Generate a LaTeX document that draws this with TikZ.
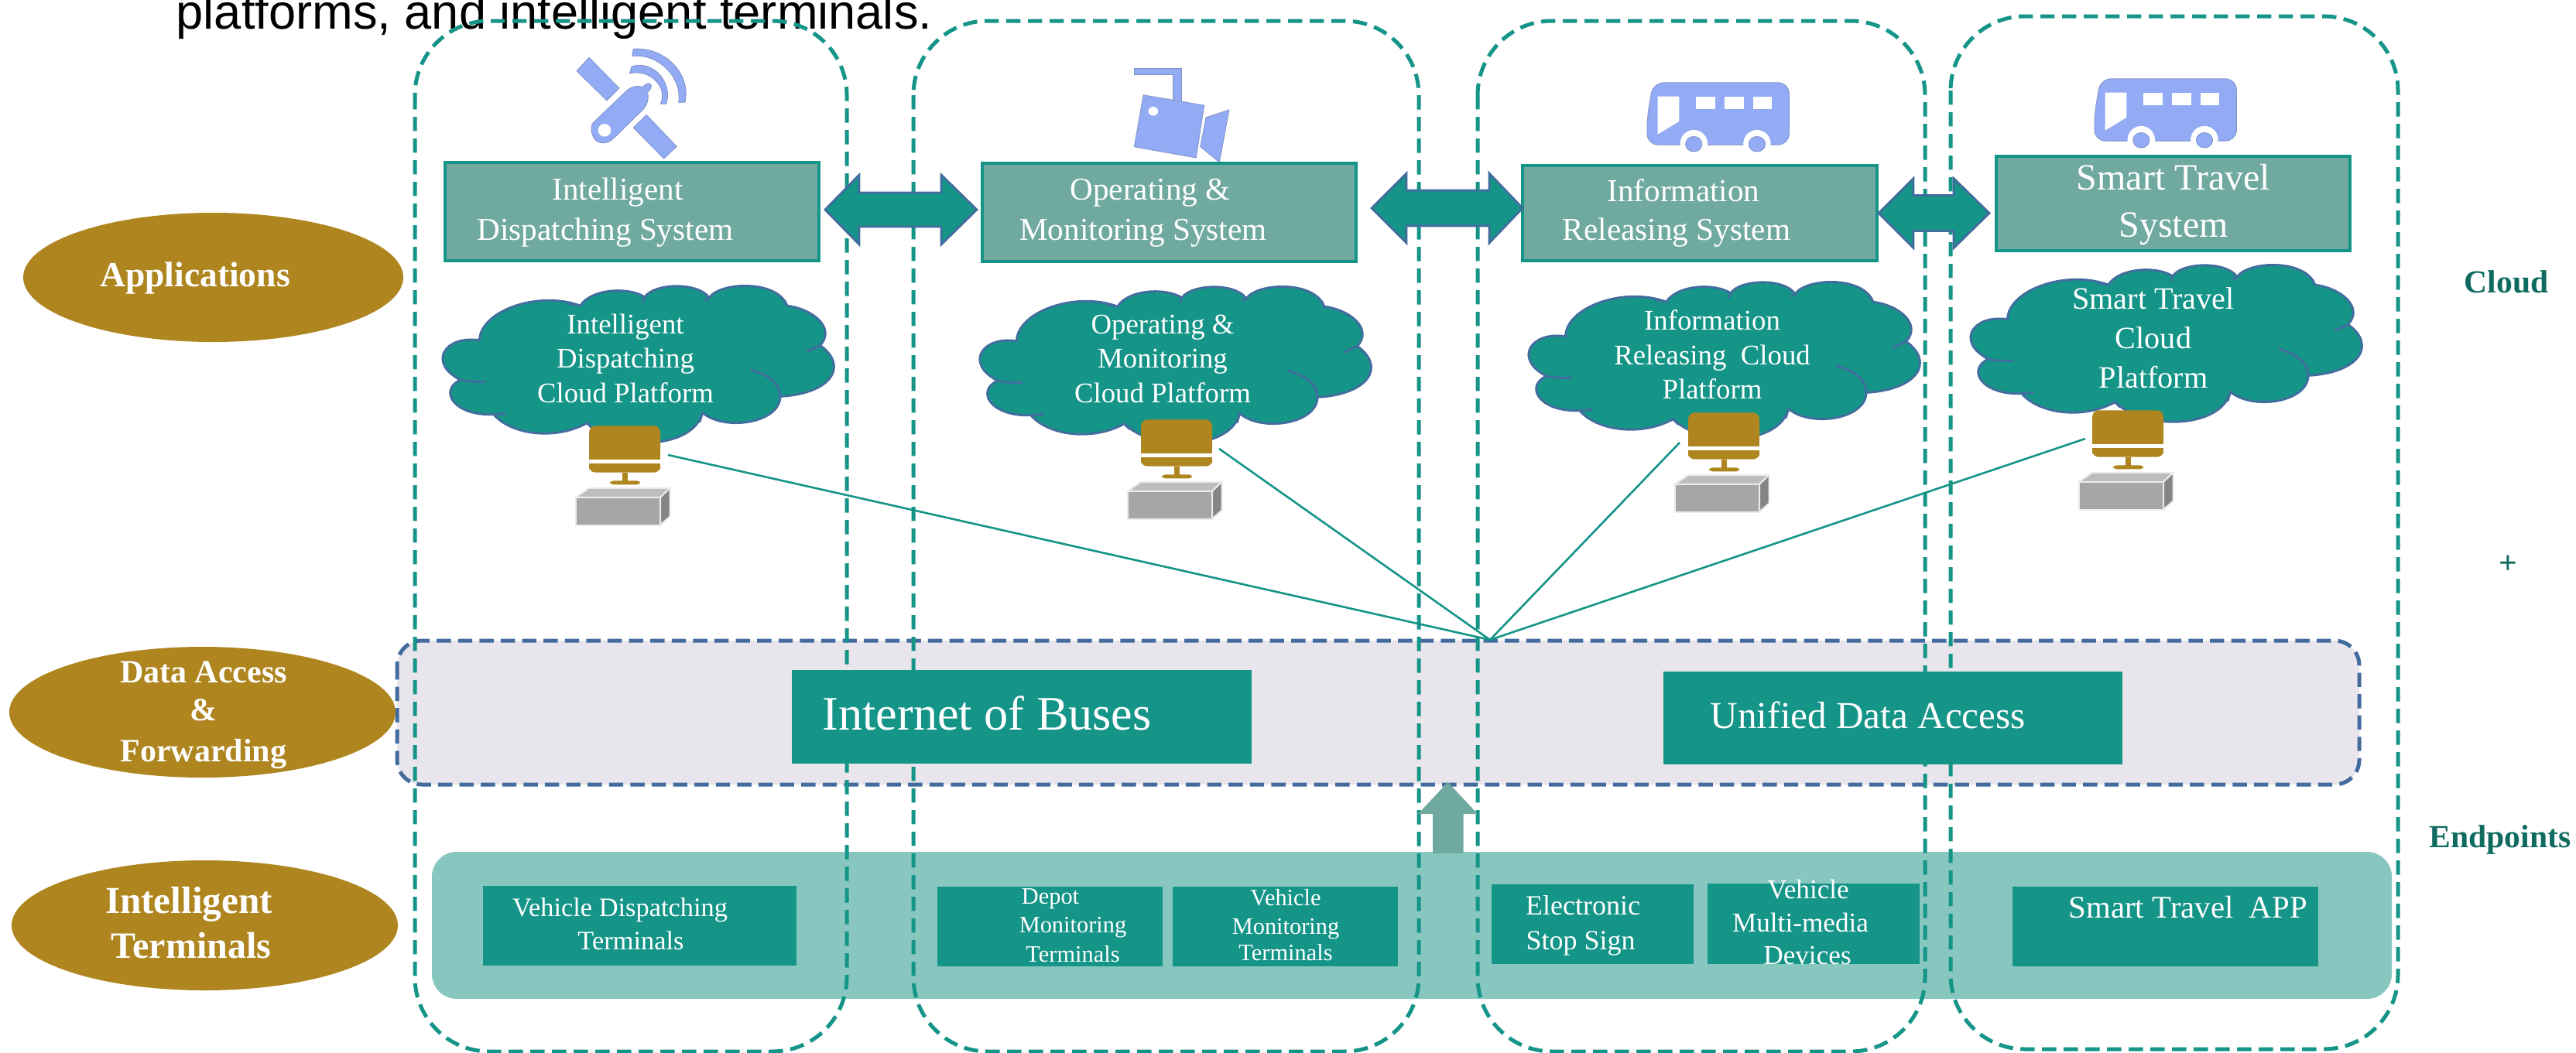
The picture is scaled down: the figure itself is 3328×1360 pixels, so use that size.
\documentclass[tikz,border=0pt]{standalone}
\usepackage{fontspec}
\setmainfont{Liberation Serif}
\newfontfamily\arialfont{Liberation Sans}
\usetikzlibrary{shapes.geometric,calc}
\definecolor{dgteal}{HTML}{159488}
\definecolor{dgsys}{HTML}{70A9A0}
\definecolor{dggold}{HTML}{AE851F}
\definecolor{dgband}{HTML}{E9E5EC}
\definecolor{dgblue}{HTML}{436C9E}
\definecolor{dgterm}{HTML}{87C7BF}
\definecolor{dgdark}{HTML}{0F6B60}
\definecolor{dgicon}{HTML}{93AAF5}
\definecolor{dgiconline}{HTML}{8093C8}
\tikzset{
  frameline/.style={draw=dgteal,line width=1.25pt,dash pattern=on 4.6pt off 2.4pt,rounded corners=24pt},
  sysbox/.style={rectangle,fill=dgsys,draw=dgteal,line width=0.9pt,inner sep=0pt},
  tealbox/.style={rectangle,fill=dgteal,inner sep=0pt},
  goldell/.style={ellipse,fill=dggold,inner sep=0pt},
  link/.style={draw=dgteal,line width=0.65pt},
  dblarrow/.style={fill=dgteal,draw=dgblue,line width=0.7pt,line join=miter},
  icon/.style={fill=dgicon,draw=dgiconline,line width=0.2pt},
  cloudshape/.style={fill=dgteal,draw=dgblue,line width=0.7pt},
  cloudinner/.style={draw=dgblue,line width=0.7pt},
}
% box given by its corners in reference pixels
\newcommand{\dgBox}[6]{\node[#2,minimum width={(#5-#3)*0.25pt},minimum height={(#6-#4)*0.25pt}] (#1) at ({(#3+#5)/2},{(#4+#6)/2}) {};}
% text: name, x centre, baseline y, size, colour, text
\newcommand{\dgText}[6]{\node[anchor=base,inner sep=0pt,text=#5,font=\fontsize{#4}{#4}\selectfont] (#1) at (#2,#3) {#6};}
\newcommand{\dgBoldT}[6]{\node[anchor=base,inner sep=0pt,text=#5,font=\fontsize{#4}{#4}\selectfont\bfseries] (#1) at (#2,#3) {#6};}
\newcommand{\dgDouble}[7]{\draw[dblarrow] (#1,#5) -- (#2,{#5-#6}) -- (#2,{#5-#7}) -- (#3,{#5-#7}) -- (#3,{#5-#6}) -- (#4,#5) -- (#3,{#5+#6}) -- (#3,{#5+#7}) -- (#2,{#5+#7}) -- (#2,{#5+#6}) -- cycle;}
\newcommand{\dgCloud}[2]{%
\begin{scope}[shift={(500+#1,#2)},xscale=0.574,yscale=0.4464]
\draw[cloudshape] (208,985) .. controls (210,900) and (340,840) .. (435,885)
  .. controls (460,835) and (545,830) .. (580,860)
  .. controls (600,820) and (700,815) .. (725,862)
  .. controls (750,815) and (880,810) .. (900,885)
  .. controls (960,895) and (1010,950) .. (975,1000)
  .. controls (1040,1060) and (1000,1140) .. (885,1148)
  .. controls (885,1225) and (760,1250) .. (710,1195)
  .. controls (690,1300) and (520,1310) .. (450,1225)
  .. controls (380,1275) and (280,1260) .. (240,1200)
  .. controls (150,1205) and (115,1130) .. (165,1100)
  .. controls (90,1050) and (130,970) .. (208,985) -- cycle;
\draw[cloudinner] (945,1018) -- (975,1000);
\draw[cloudinner] (818,1070) .. controls (870,1090) and (885,1120) .. (885,1148);
\draw[cloudinner] (165,1100) .. controls (180,1105) and (200,1106) .. (222,1105);
\draw[cloudinner] (240,1200) -- (268,1197);
\draw[cloudinner] (710,1195) -- (704,1222);
\draw[cloudinner] (450,1225) -- (462,1240);
\draw[cloudinner] (900,885) -- (895,870);
\draw[cloudinner] (725,862) -- (715,870);
\draw[cloudinner] (580,860) -- (575,875);
\draw[cloudinner] (435,885) -- (410,880);
\end{scope}}
\newcommand{\dgMonitor}[4]{%
\begin{scope}[shift={(500+#1,#2)},xscale=0.574,yscale=0.4464]
\fill[dggold,rounded corners=2pt] (455,1330) -- (455,1233) -- (615,1233) -- (615,1330) [sharp corners] -- cycle;
\fill[dggold] (455,1330) rectangle (615,1300);
\fill[dggold,rounded corners=2pt] (455,1342) -- (455,1368) -- (615,1368) -- (615,1342) -- cycle;
\fill[dggold] (455,1342) rectangle (615,1355);
\fill[dggold] (530,1368) rectangle (541,1395);
\fill[dggold,rounded corners=1pt] (502,1392) rectangle (570,1403);
\filldraw[fill=black!35!white,draw=black!8,line width=0.5pt] (425,1440) rectangle (615,1520);
\filldraw[fill=black!26!white,draw=black!8,line width=0.5pt] (425,1440) -- (455,1413) -- (637,1413) -- (615,1440) -- cycle;
\filldraw[fill=black!48!white,draw=black!8,line width=0.5pt] (615,1440) -- (637,1413) -- (637,1495) -- (615,1520) -- cycle;
\end{scope}
\coordinate (#3) at (#4);}
\newcommand{\dgBus}[2]{%
\begin{scope}[shift={(2400+#1,#2)},xscale=0.5917,yscale=0.4464]
\filldraw[icon,rounded corners=3.5pt] (530,228) -- (827,228) -- (827,408) -- (517,408) -- (517,330) -- cycle;
\fill[white] (619,405) ellipse (30 and 40);
\fill[white] (757,405) ellipse (30 and 40);
\filldraw[icon] (619,406) ellipse (18 and 22);
\filldraw[icon] (757,406) ellipse (18 and 22);
\fill[white] (540,268) -- (587,268) -- (587,340) -- (540,378) -- cycle;
\fill[white] (623,268) rectangle (665,305);
\fill[white] (686,268) rectangle (728,305);
\fill[white] (749,268) rectangle (790,305);
\end{scope}}
\begin{document}
\begin{tikzpicture}[x=0.25pt,y=-0.25pt]
\useasboundingbox (0,0) rectangle (3328,1360);
\clip (0,0) rectangle (3328,1360);
% clipped line of text at the top
\node[anchor=base west,inner sep=0pt,text=black,font=\arialfont\fontsize{15.8}{15.8}\selectfont] (toptext) at (227,37) {platforms, and intelligent terminals.};
% layer bands
\draw[draw=dgblue,fill=dgband,line width=1.25pt,dash pattern=on 4.6pt off 2.3pt,rounded corners=8pt] (513,828) rectangle (3048,1014);
\fill[dgterm,rounded corners=8pt] (558,1101) rectangle (3090,1291);
% column frames
\draw[frameline] (536,27) rectangle (1094,1359);
\draw[frameline] (1180,27) rectangle (1833,1359);
\draw[frameline] (1909,27) rectangle (2487,1359);
\draw[frameline] (2520,21) rectangle (3098,1356);
% left labels
\dgBox{ellA}{goldell}{30}{275}{521}{442}
\dgBox{ellB}{goldell}{12}{836}{511}{1005}
\dgBox{ellC}{goldell}{15}{1112}{514}{1280}
\dgBoldT{tApp}{252}{370}{11.4}{white}{Applications}
\dgBoldT{tData}{263}{882}{10.5}{white}{Data Access}
\dgBoldT{tAmp}{263}{931}{10.5}{white}{\&}
\dgBoldT{tFwd}{263}{984}{10.5}{white}{Forwarding}
\dgBoldT{tInt}{244}{1180}{12.3}{white}{Intelligent}
\dgBoldT{tTer}{247}{1238}{12}{white}{Terminals}
% icons: satellite
\begin{scope}[shift={(700,50)},scale=0.3333]
\filldraw[icon] (135,125) -- (183,73) -- (300,192) -- (252,240) -- cycle;
\filldraw[icon] (355,345) -- (405,295) -- (523,418) -- (473,465) -- cycle;
\filldraw[icon] (200,325) -- (325,205) .. controls (345,185) and (370,180) .. (392,188) .. controls (395,180) and (410,170) .. (420,175) .. controls (430,185) and (420,200) .. (410,207) .. controls (415,230) and (410,255) .. (395,272) -- (280,385) .. controls (250,415) and (205,410) .. (195,370) .. controls (190,350) and (190,335) .. (200,325) -- cycle;
\fill[white] (243,355) circle (25);
\filldraw[icon] (348,108) .. controls (430,80) and (510,170) .. (482,253) -- (460,253) .. controls (490,190) and (420,115) .. (340,135) -- cycle;
\filldraw[icon] (355,40) .. controls (470,30) and (580,130) .. (555,247) -- (530,247) .. controls (545,150) and (450,55) .. (350,68) -- cycle;
\end{scope}
% icons: camera
\begin{scope}[shift={(1400,0)},xscale=0.7015,yscale=0.4464]
\filldraw[icon] (93,197) -- (180,197) -- (180,297) -- (165,297) -- (165,215) -- (93,215) -- cycle;
\filldraw[icon] (110,275) -- (222,305) -- (207,457) -- (93,425) -- cycle;
\fill[white] (128,322) ellipse (9 and 13);
\filldraw[icon] (225,340) -- (268,318) -- (250,470) -- (215,425) -- cycle;
\end{scope}
\dgBus{-578}{5}
\dgBus{0}{0}
% system boxes
\dgBox{sys1}{sysbox}{575}{210}{1058}{337}
\dgBox{sys2}{sysbox}{1269}{211}{1752}{338}
\dgBox{sys3}{sysbox}{1967}{214}{2425}{337}
\dgBox{sys4}{sysbox}{2579}{202}{3036}{324}
\dgText{s1a}{798}{258}{10.3}{white}{Intelligent}
\dgText{s1b}{782}{310}{10.3}{white}{Dispatching System}
\dgText{s2a}{1486}{258}{10.3}{white}{Operating \&}
\dgText{s2b}{1477}{310}{10.3}{white}{Monitoring System}
\dgText{s3a}{2175}{260}{10.3}{white}{Information}
\dgText{s3b}{2166}{310}{10.3}{white}{Releasing System}
\dgText{s4a}{2808}{245}{12}{white}{Smart Travel}
\dgText{s4b}{2808}{306}{12}{white}{System}
% double arrows
\dgDouble{1066}{1110}{1216}{1262}{271}{45}{22}
\dgDouble{1772}{1817}{1924}{1967}{269}{45}{23}
\dgDouble{2427}{2472}{2524}{2570}{275.5}{45}{23}
% clouds
\dgCloud{0}{0}
\dgCloud{694}{1}
\dgCloud{1403}{-5}
\dgCloud{1974}{-27}
\dgText{c1a}{808}{431}{9.2}{white}{Intelligent}
\dgText{c1b}{808}{475}{9.2}{white}{Dispatching}
\dgText{c1c}{808}{520}{9.2}{white}{Cloud Platform}
\dgText{c2a}{1502}{431}{9.2}{white}{Operating \&}
\dgText{c2b}{1502}{475}{9.2}{white}{Monitoring}
\dgText{c2c}{1502}{520}{9.2}{white}{Cloud Platform}
\dgText{c3a}{2212}{426}{9.2}{white}{Information}
\dgText{c3b}{2212}{471}{9.2}{white}{Releasing~~Cloud}
\dgText{c3c}{2212}{515}{9.2}{white}{Platform}
\dgText{c4a}{2782}{399}{10.05}{white}{Smart Travel}
\dgText{c4b}{2782}{450}{10.05}{white}{Cloud}
\dgText{c4c}{2782}{501}{10.05}{white}{Platform}
% monitors and connector ends
\dgMonitor{0}{0}{port1}{863,588}
\dgMonitor{713}{-8}{port2}{1575,580}
\dgMonitor{1420}{-17}{port3}{2170,572}
\dgMonitor{1942}{-20}{port4}{2694,567}
\coordinate (hub) at (1925,827);
\draw[link] (port1) -- (hub);
\draw[link] (port2) -- (hub);
\draw[link] (port3) -- (hub);
\draw[link] (port4) -- (hub);
% access boxes
\dgBox{iob}{tealbox}{1023}{866}{1617}{987}
\dgBox{uda}{tealbox}{2149}{868}{2742}{988}
\node[anchor=base west,inner sep=0pt,text=white,font=\fontsize{15.55}{15.55}\selectfont] (tIob) at (1062,943) {Internet of Buses};
\node[anchor=base west,inner sep=0pt,text=white,font=\fontsize{12.3}{12.3}\selectfont] (tUda) at (2209,941) {Unified Data Access};
% up arrow
\fill[dgsys] (1870.5,1011) -- (1909,1052) -- (1890.5,1052) -- (1890.5,1103) -- (1851,1103) -- (1851,1052) -- (1832,1052) -- cycle;
% terminal boxes
\dgBox{term1}{tealbox}{624}{1145}{1029}{1248}
\dgBox{term2}{tealbox}{1211}{1146}{1502}{1249}
\dgBox{term3}{tealbox}{1515}{1146}{1806}{1249}
\dgBox{term4}{tealbox}{1927}{1143}{2188}{1246}
\dgBox{term5}{tealbox}{2206}{1142}{2480}{1246}
\dgBox{term6}{tealbox}{2600}{1146}{2995}{1249}
\dgText{t1a}{801}{1184}{8.6}{white}{Vehicle Dispatching}
\dgText{t1b}{815}{1227}{8.6}{white}{Terminals}
\dgText{t2a}{1357}{1168}{7.6}{white}{Depot}
\dgText{t2b}{1386}{1205}{7.6}{white}{Monitoring}
\dgText{t2c}{1386}{1243}{7.6}{white}{Terminals}
\dgText{t3a}{1661}{1170}{7.6}{white}{Vehicle}
\dgText{t3b}{1661}{1207}{7.6}{white}{Monitoring}
\dgText{t3c}{1661}{1241}{7.6}{white}{Terminals}
\dgText{t4a}{2045}{1182}{9}{white}{Electronic}
\dgText{t4b}{2042}{1227}{9}{white}{Stop Sign}
\dgText{t5a}{2336}{1161}{8.8}{white}{Vehicle}
\dgText{t5b}{2326}{1204}{8.8}{white}{Multi-media}
\dgText{t5c}{2335}{1246}{8.8}{white}{Devices}
\node[anchor=base west,inner sep=0pt,text=white,font=\fontsize{10.2}{10.2}\selectfont] (t6a) at (2672,1186) {Smart Travel~~APP};
% right labels
\dgBoldT{rCloud}{3238}{378}{10.4}{dgdark}{Cloud}
\dgBoldT{rPlus}{3240}{741}{10.4}{dgdark}{+}
\dgBoldT{rEnd}{3230}{1095}{10.4}{dgdark}{Endpoints}
\end{tikzpicture}
\end{document}
